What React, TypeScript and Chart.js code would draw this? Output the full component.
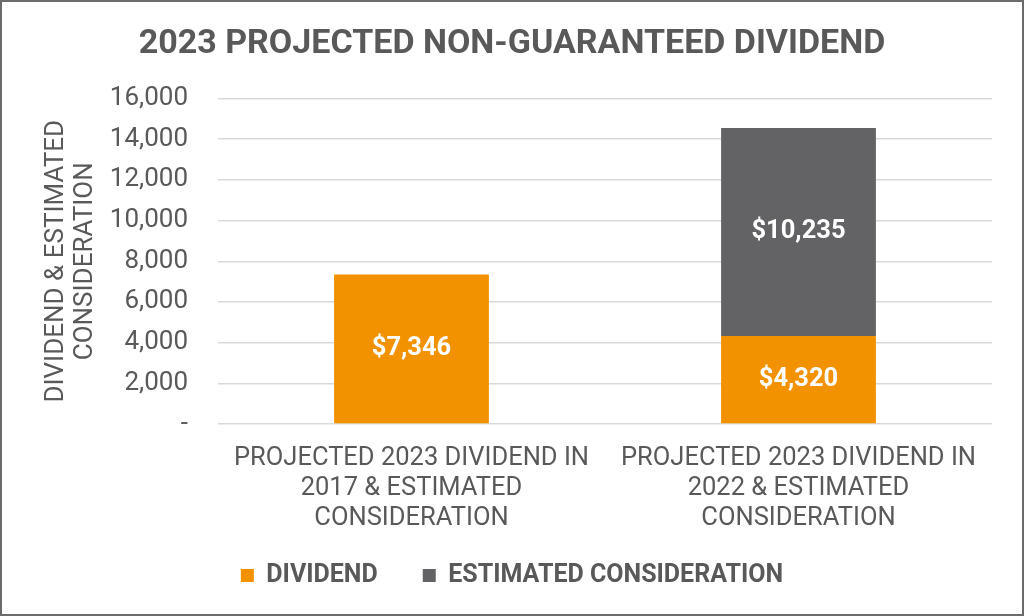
import React, { useEffect, useRef } from "react";
import { Chart, registerables } from "chart.js";

Chart.register(...registerables);

const chartTitle = "2023 PROJECTED NON-GUARANTEED DIVIDEND";
const yAxisTitle = ["DIVIDEND & ESTIMATED", "CONSIDERATION"];
const categories = [
  ["PROJECTED 2023 DIVIDEND IN", "2017 & ESTIMATED", "CONSIDERATION"],
  ["PROJECTED 2023 DIVIDEND IN", "2022 & ESTIMATED", "CONSIDERATION"],
];
const seriesNames = ["DIVIDEND", "ESTIMATED CONSIDERATION"];
const dividendValues = [7346, 4320];
const estimatedValues = [null, 10235];
const yMin = 0;
const yMax = 16000;
const yStep = 2000;

const ORANGE = "#F39200";
const GRAY = "#636366";
const TEXT = "#595959";

const dataLabelPlugin = {
  id: "dataLabels",
  afterDatasetsDraw(chart: any) {
    const ctx = chart.ctx;
    ctx.save();
    ctx.fillStyle = "#ffffff";
    ctx.font = "bold 25.5px Roboto";
    ctx.textAlign = "center";
    ctx.textBaseline = "middle";
    chart.data.datasets.forEach((ds: any, di: number) => {
      const meta = chart.getDatasetMeta(di);
      meta.data.forEach((el: any, i: number) => {
        const v = ds.data[i];
        if (v == null || v === 0) return;
        const y = (el.y + el.base) / 2;
        ctx.fillText("$" + v.toLocaleString("en-US"), el.x, y);
      });
    });
    ctx.restore();
  },
};

export default function App() {
  const ref = useRef<HTMLCanvasElement>(null);
  useEffect(() => {
    document.body.style.margin = "0";
    const chart = new Chart(ref.current as HTMLCanvasElement, {
      type: "bar",
      data: {
        labels: categories,
        datasets: [
          {
            label: seriesNames[0],
            data: dividendValues,
            backgroundColor: ORANGE,
            barPercentage: 0.4,
            categoryPercentage: 1,
          },
          {
            label: seriesNames[1],
            data: estimatedValues as any,
            backgroundColor: GRAY,
            barPercentage: 0.4,
            categoryPercentage: 1,
          },
        ],
      },
      options: {
        animation: false,
        responsive: false,
        maintainAspectRatio: false,
        layout: { padding: { left: 32, right: 32, top: 0, bottom: 18 } },
        plugins: {
          title: {
            display: true,
            text: chartTitle,
            color: TEXT,
            font: { family: "Roboto", size: 34, weight: "bold", lineHeight: 1.2 },
            padding: { top: 24, bottom: 33.7 },
          },
          legend: {
            position: "bottom",
            labels: {
              color: TEXT,
              font: { family: "Roboto", size: 25, weight: "bold", lineHeight: 1.2 },
              boxWidth: 13,
              boxHeight: 13,
              padding: 45,
            },
          },
          tooltip: { enabled: false },
        },
        scales: {
          x: {
            stacked: true,
            grid: { display: false },
            border: { display: false },
            ticks: {
              color: TEXT,
              font: { family: "Roboto", size: 25.5, lineHeight: 1.19 },
              padding: 11,
              maxRotation: 0,
              autoSkip: false,
            },
            afterFit(scale: any) {
              scale.height = 94;
              // let the multi-line category labels run past the axis box
              scale._computeLabelArea = () => undefined;
            },
          },
          y: {
            stacked: true,
            min: yMin,
            max: yMax,
            border: { display: false },
            grid: { color: "#d9d9d9", lineWidth: 1.5, drawTicks: false },
            ticks: {
              stepSize: yStep,
              color: TEXT,
              font: { family: "Roboto", size: 26 },
              padding: 30,
              callback: (v: any) => (Number(v) === 0 ? "-" : Number(v).toLocaleString("en-US")),
            },
            title: {
              display: true,
              text: yAxisTitle,
              color: TEXT,
              font: { family: "Roboto", size: 26, lineHeight: 1.127 },
              padding: { top: 9.5, bottom: 0 },
            },
            afterFit(scale: any) {
              scale.width = 186;
            },
          },
        },
      },
      plugins: [dataLabelPlugin],
    } as any);
    return () => chart.destroy();
  }, []);
  return (
    <div style={{ position: "relative", width: 1024, height: 616, background: "#fff" }}>
      <canvas ref={ref} width={1024} height={616} style={{ position: "absolute", left: 0, top: 0, width: 1024, height: 616 }} />
      <div
        style={{
          position: "absolute",
          inset: 0,
          border: "2px solid #6b6b6b",
          boxSizing: "border-box",
          pointerEvents: "none",
        }}
      />
    </div>
  );
}
